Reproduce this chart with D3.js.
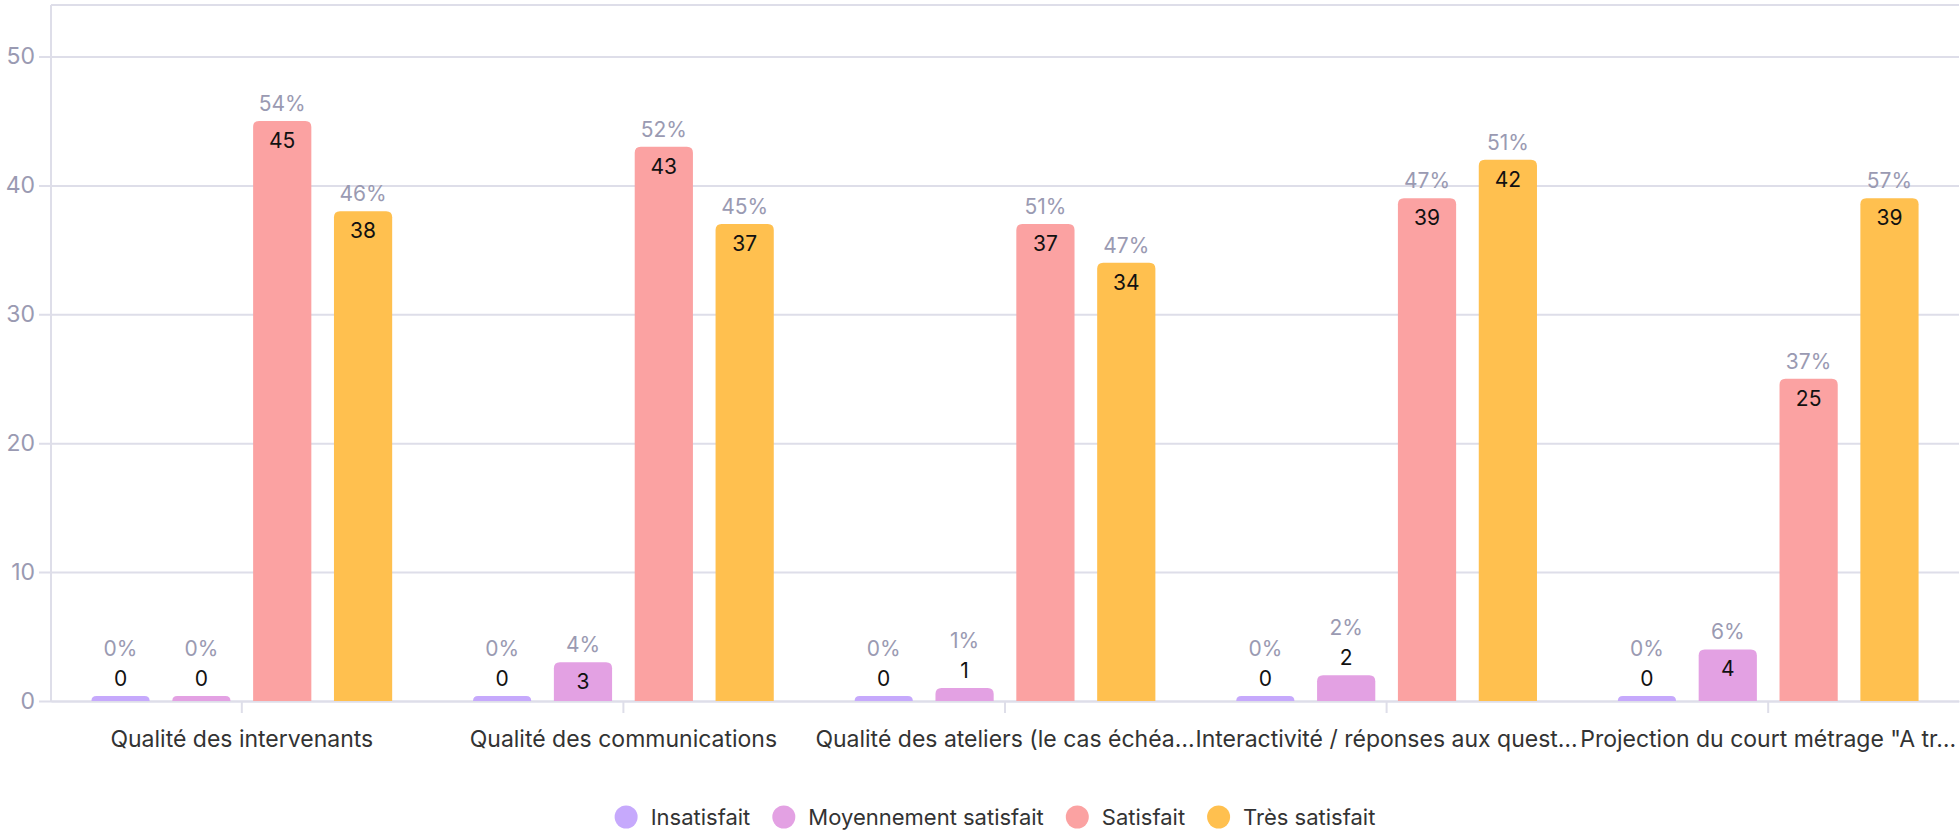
<!DOCTYPE html>
<html>
<head>
<meta charset="utf-8">
<script src="https://cdn.jsdelivr.net/npm/d3@7"></script>
<style>
  html, body { margin: 0; padding: 0; background: #fff; }
  svg { display: block; }
</style>
</head>
<body>
<svg id="chart" width="1960" height="834"></svg>
<script>
// data
const categories = [
  'Qualité des intervenants',
  'Qualité des communications',
  'Qualité des ateliers (le cas échéa…',
  'Interactivité / réponses aux quest…',
  'Projection du court métrage "A tr…',
]
const seriesNames = ['Insatisfait', 'Moyennement satisfait', 'Satisfait', 'Très satisfait']
const insatisfait = [0, 0, 0, 0, 0]
const moyennement = [0, 3, 1, 2, 4]
const satisfait = [45, 43, 37, 39, 25]
const tresSatisfait = [38, 37, 34, 42, 39]
const yTicks = [0, 10, 20, 30, 40, 50]
const colors = ['#c6a9fc', '#e3a1e3', '#fba2a2', '#ffc04f']

const seriesValues = [insatisfait, moyennement, satisfait, tresSatisfait]

// build a row per category
const rows = categories.map((c, i) => {
  const values = seriesValues.map((s) => s[i])
  const total = d3.sum(values)
  return {
    category: c,
    bars: seriesNames.map((s, j) => ({
      series: s,
      value: values[j],
      pct: total ? Math.round((values[j] / total) * 100) : 0,
    })),
  }
})

const width = 1960
const height = 834
const margin = { top: 5, right: 1, bottom: 133, left: 51 }

const fontFamily = 'Inter, "Noto Sans", sans-serif'
const gridColor = '#dedee9'
const mutedText = '#9a9ab2'

const svg = d3.select('#chart')

// scales
const x0 = d3
  .scaleBand()
  .domain(categories)
  .range([margin.left, width - margin.right])
  .padding(0)

const x1 = d3
  .scaleBand()
  .domain(seriesNames)
  .range([0, x0.bandwidth()])
  .paddingInner(0.28)
  .paddingOuter(0.5)

const y = d3
  .scaleLinear()
  .domain([0, 54])
  .range([height - margin.bottom, margin.top])

const color = d3.scaleOrdinal().domain(seriesNames).range(colors)

// grid + y axis
const yAxis = svg
  .append('g')
  .attr('id', 'yAxis')
  .attr('transform', `translate(${margin.left},0)`)
  .call(
    d3
      .axisLeft(y)
      .tickValues(yTicks)
      .tickSize(-(width - margin.left - margin.right))
  )
yAxis.select('.domain').remove()
yAxis.selectAll('.tick line').attr('x1', -12).attr('stroke', gridColor).attr('stroke-width', 2)
yAxis
  .selectAll('.tick text')
  .attr('x', -16)
  .attr('fill', mutedText)
  .attr('font-family', fontFamily)
  .attr('font-size', 23)

// frame: top and left lines
svg
  .append('line')
  .attr('x1', margin.left)
  .attr('x2', width - margin.right)
  .attr('y1', y(54))
  .attr('y2', y(54))
  .attr('stroke', gridColor)
  .attr('stroke-width', 2)
svg
  .append('line')
  .attr('x1', margin.left)
  .attr('x2', margin.left)
  .attr('y1', y(54))
  .attr('y2', y(0))
  .attr('stroke', gridColor)
  .attr('stroke-width', 2)

// x axis
const xAxis = svg
  .append('g')
  .attr('id', 'xAxis')
  .attr('transform', `translate(0,${y(0)})`)
  .call(d3.axisBottom(x0).tickSize(12).tickSizeOuter(0).tickPadding(18))
xAxis.select('.domain').attr('stroke', gridColor).attr('stroke-width', 2)
xAxis.selectAll('.tick line').attr('stroke', gridColor).attr('stroke-width', 2)
xAxis
  .selectAll('.tick text')
  .attr('fill', '#333')
  .attr('font-family', fontFamily)
  .attr('font-size', 23)

// bar with rounded top corners
function topRounded(x, yTop, w, h, r) {
  r = Math.min(r, h, w / 2)
  return `M${x},${yTop + h}V${yTop + r}Q${x},${yTop} ${x + r},${yTop}H${x + w - r}Q${x + w},${yTop} ${x + w},${yTop + r}V${yTop + h}Z`
}

const minBar = 5
const groups = svg
  .append('g')
  .attr('id', 'bars')
  .selectAll('g')
  .data(rows)
  .join('g')
  .attr('transform', (d) => `translate(${x0(d.category)},0)`)

groups
  .selectAll('path')
  .data((d) => d.bars)
  .join('path')
  .attr('fill', (d) => color(d.series))
  .attr('d', (d) => {
    const h = Math.max(minBar, y(0) - y(d.value))
    return topRounded(x1(d.series), y(0) - h, x1.bandwidth(), h, 6)
  })

// labels
groups.each(function (row) {
  const g = d3.select(this)
  row.bars.forEach((d) => {
    const h = Math.max(minBar, y(0) - y(d.value))
    const top = y(0) - h
    const cx = x1(d.series) + x1.bandwidth() / 2
    const inside = h >= 32
    g.append('text')
      .attr('x', cx)
      .attr('y', inside ? top + 27 : top - 10)
      .attr('text-anchor', 'middle')
      .attr('font-family', fontFamily)
      .attr('font-size', 21)
      .attr('fill', '#111')
      .text(d.value)
    g.append('text')
      .attr('x', cx)
      .attr('y', inside ? top - 10 : top - 40)
      .attr('text-anchor', 'middle')
      .attr('font-family', fontFamily)
      .attr('font-size', 21)
      .attr('fill', mutedText)
      .text(d.pct + '%')
  })
})

// legend
const legend = svg.append('g').attr('id', 'legend')
let lx = 0
const r = 11.5
seriesNames.forEach((s) => {
  const item = legend.append('g').attr('transform', `translate(${lx},0)`)
  item.append('circle').attr('cx', r).attr('cy', 0).attr('r', r).attr('fill', color(s))
  const t = item
    .append('text')
    .attr('x', 2 * r + 13)
    .attr('y', 0)
    .attr('dy', '0.35em')
    .attr('font-family', fontFamily)
    .attr('font-size', 22)
    .attr('fill', '#333')
    .text(s)
  lx += 2 * r + 13 + t.node().getComputedTextLength() + 22
})
const legendWidth = lx - 22
legend.attr('transform', `translate(${995 - legendWidth / 2},817)`)
</script>
</body>
</html>
